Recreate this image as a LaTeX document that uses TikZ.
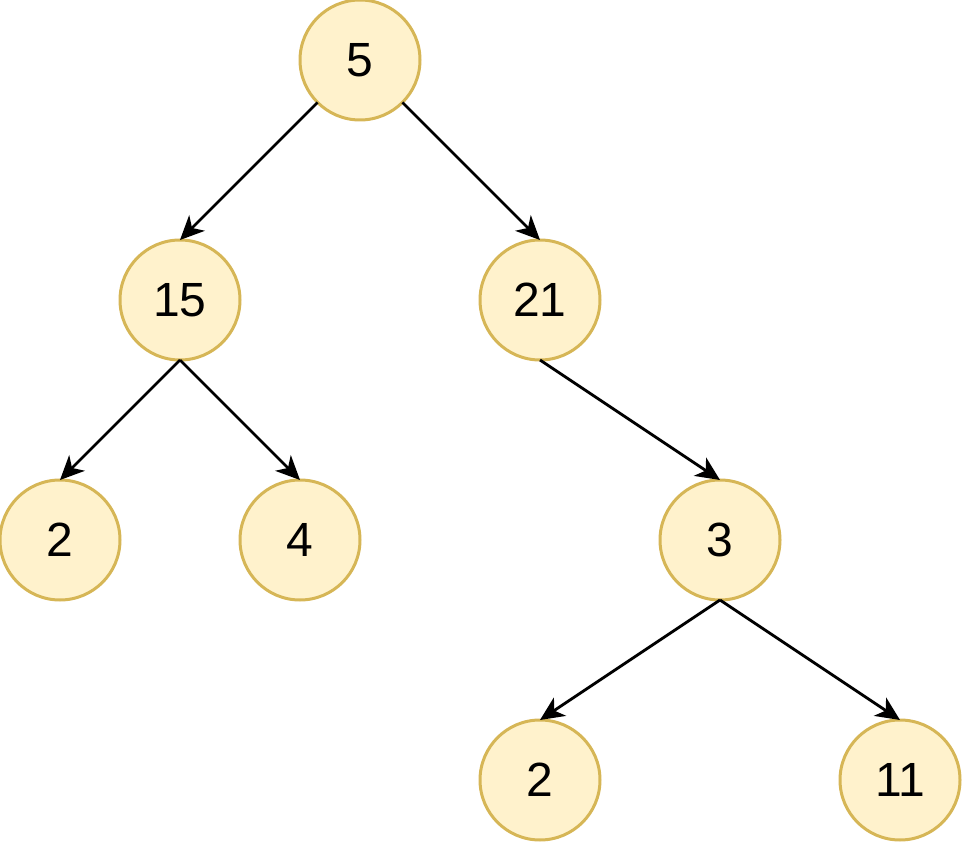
\documentclass[tikz,border=0pt]{standalone}
\usepackage{fontspec}
\setmainfont{Liberation Sans}
\usetikzlibrary{arrows.meta}
\definecolor{nodefill}{HTML}{FFF2CC}
\definecolor{nodeline}{HTML}{D6B656}
\begin{document}
\begin{tikzpicture}[x=1pt,y=-1pt,
  treenode/.style={circle,draw=nodeline,fill=nodefill,line width=3pt,minimum size=120pt,inner sep=0pt,outer sep=0pt,font=\fontsize{48}{58}\selectfont},
  edge/.style={line width=2.8pt,-{Stealth[length=24pt,width=22pt,inset=7pt]}}]
\useasboundingbox (0,0) rectangle (962,842);
\node[treenode] (n5) at (360,60) {5};
\node[treenode] (n15) at (180,300) {15};
\node[treenode] (n21) at (540,300) {21};
\node[treenode] (n2a) at (60,540) {2};
\node[treenode] (n4) at (300,540) {4};
\node[treenode] (n3) at (720,540) {3};
\node[treenode] (n2b) at (540,780) {2};
\node[treenode] (n11) at (900,780) {11};
\draw[edge] (n5.225) -- (n15.north);
\draw[edge] (n5.-45) -- (n21.north);
\draw[edge] (n15.south) -- (n2a.north);
\draw[edge] (n15.south) -- (n4.north);
\draw[edge] (n21.south) -- (n3.north);
\draw[edge] (n3.south) -- (n2b.north);
\draw[edge] (n3.south) -- (n11.north);
\end{tikzpicture}
\end{document}
